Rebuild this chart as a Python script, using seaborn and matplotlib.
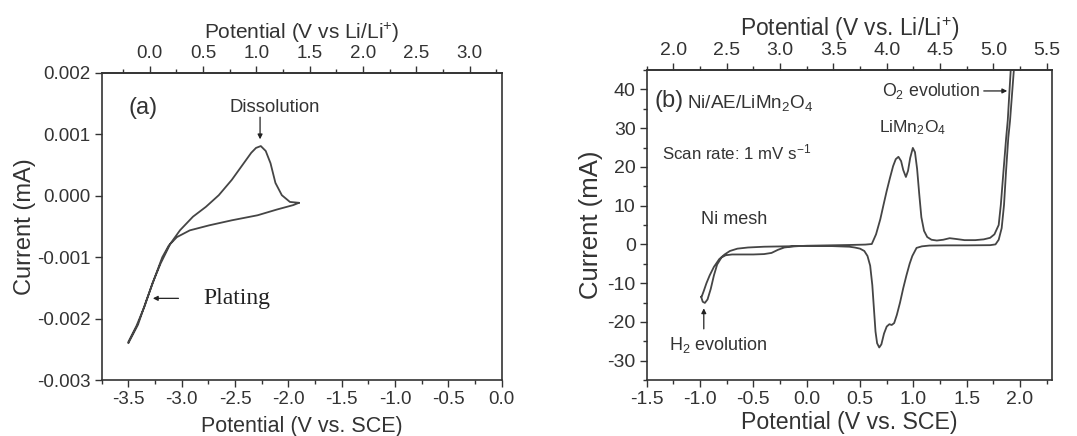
import matplotlib
matplotlib.use("Agg")
import matplotlib.pyplot as plt
import seaborn as sns
import pandas as pd
from matplotlib.ticker import MultipleLocator

# (a) Li plating / dissolution, potential vs SCE (V), current (mA)
a_potential = [-1.90, -1.955, -2.106, -2.288, -2.53, -2.742, -2.924, -3.045, -3.121, -3.182,
               -3.25, -3.33, -3.41, -3.50,
               -3.50, -3.424, -3.348, -3.273, -3.197, -3.106, -3.015, -2.894, -2.773, -2.652,
               -2.53, -2.439, -2.348, -2.303, -2.258, -2.212, -2.167, -2.121, -2.061, -1.985, -1.90]
a_current = [-0.000114, -0.000152, -0.000223, -0.000317, -0.000399, -0.000481, -0.000563, -0.000673, -0.00081, -0.001002,
             -0.00132, -0.00170, -0.00210, -0.00240,
             -0.00238, -0.00212, -0.00180, -0.00142, -0.00110, -0.00078, -0.00056, -0.00034, -0.00018, 0.00001,
             0.00026, 0.00048, 0.00070, 0.00078, 0.00081, 0.00073, 0.00053, 0.00021, 0.00001, -0.00010, -0.000114]

# (b) Ni/AE/LiMn2O4, potential vs SCE (V), current (mA)
b_potential = [-0.99, -0.975, -0.955, -0.93, -0.90, -0.87, -0.84, -0.80, -0.76, -0.70, -0.60, -0.50,
               -0.40, -0.33, -0.27, -0.21, -0.12, 0.0, 0.2, 0.4, 0.55, 0.61, 0.65, 0.69, 0.72, 0.75,
               0.78, 0.81, 0.835, 0.86, 0.885, 0.905, 0.93, 0.95, 0.97, 0.995, 1.015, 1.035, 1.055,
               1.075, 1.10, 1.13, 1.17, 1.22, 1.28, 1.34, 1.40, 1.48, 1.58, 1.66, 1.72, 1.76, 1.80,
               1.82, 1.845, 1.87, 1.885, 1.915,
               1.945, 1.906, 1.89, 1.869, 1.85, 1.828, 1.80, 1.77, 1.72, 1.5, 1.3, 1.15, 1.08, 1.03,
               0.99, 0.965, 0.935, 0.905, 0.875, 0.845, 0.82, 0.797, 0.775, 0.75, 0.725, 0.70, 0.68,
               0.66, 0.645, 0.63, 0.615, 0.595, 0.57, 0.54, 0.50, 0.45, 0.40, 0.2, 0.0, -0.2, -0.4,
               -0.55, -0.65, -0.72, -0.77, -0.82, -0.87, -0.91, -0.94, -0.965, -0.985, -0.99]
b_current = [-13.5, -14.8, -15.1, -14.2, -11.5, -8.0, -5.2, -3.4, -2.8, -2.6, -2.6, -2.6,
             -2.5, -2.2, -1.4, -0.8, -0.5, -0.35, -0.25, -0.15, -0.05, 0.1, 2.6, 6.5, 10.2, 13.8,
             17.1, 20.2, 22.0, 22.6, 21.5, 19.2, 17.4, 19.0, 22.3, 24.9, 23.8, 19.5, 13.0,
             7.0, 3.5, 1.9, 1.2, 1.0, 1.2, 1.6, 1.4, 1.1, 1.1, 1.3, 1.7, 2.6, 5.0,
             10.2, 18.9, 27.5, 32.0, 46.0,
             46.0, 31.8, 27.5, 18.9, 10.2, 4.2, 1.2, 0.0, -0.2, -0.25, -0.25, -0.3, -0.5, -0.9,
             -3.0, -5.0, -8.0, -11.3, -15.0, -18.2, -20.3, -20.8, -20.6, -21.2, -23.0, -25.8, -26.6,
             -25.5, -22.5, -16.5, -10.5, -5.5, -3.0, -1.7, -1.1, -0.8, -0.6, -0.4, -0.4, -0.5, -0.6,
             -0.8, -1.1, -1.7, -2.6, -3.8, -5.8, -8.0, -10.0, -12.0, -13.5, -13.5]

a_bottom_ticks = [-3.5, -3.0, -2.5, -2.0, -1.5, -1.0, -0.5, 0.0]
a_top_ticks = [0.0, 0.5, 1.0, 1.5, 2.0, 2.5, 3.0]
a_y_ticks = [0.002, 0.001, 0.000, -0.001, -0.002, -0.003]
a_y_labels = ['0.002', '0.001', '0.000', '-0.001', '-0.002', '-0.003']
b_bottom_ticks = [-1.5, -1.0, -0.5, 0.0, 0.5, 1.0, 1.5, 2.0]
b_top_ticks = [2.0, 2.5, 3.0, 3.5, 4.0, 4.5, 5.0, 5.5]
b_y_ticks = [40, 30, 20, 10, 0, -10, -20, -30]

a_offset = 3.3   # SCE -> Li/Li+
b_offset = 3.25

sns.set_style("ticks")
plt.rcParams['font.family'] = ['Liberation Sans', 'DejaVu Sans']
plt.rcParams['mathtext.fontset'] = 'custom'
plt.rcParams['mathtext.rm'] = 'Liberation Sans'
plt.rcParams['mathtext.it'] = 'Liberation Sans:italic'
plt.rcParams['axes.linewidth'] = 1.2
plt.rcParams['xtick.major.width'] = 1.0
plt.rcParams['ytick.major.width'] = 1.0
plt.rcParams['xtick.minor.width'] = 1.0
plt.rcParams['ytick.minor.width'] = 1.0
plt.rcParams['xtick.color'] = '#333333'
plt.rcParams['ytick.color'] = '#333333'
plt.rcParams['axes.edgecolor'] = '#333333'

line_color = '#454545'
text_color = '#333333'
arrow = dict(arrowstyle='-|>', color='#222222', lw=0.9, mutation_scale=7, shrinkA=0, shrinkB=0)

fig = plt.figure(figsize=(10.77, 4.36), dpi=100)
ax1 = fig.add_axes([0.0944, 0.1284, 0.3714, 0.7042])
ax2 = fig.add_axes([0.6005, 0.1284, 0.3763, 0.7110])

df_a = pd.DataFrame({'E': a_potential, 'I': a_current})
df_b = pd.DataFrame({'E': b_potential, 'I': b_current})

sns.lineplot(data=df_a, x='E', y='I', sort=False, estimator=None, color=line_color, lw=1.3, ax=ax1)
sns.lineplot(data=df_b, x='E', y='I', sort=False, estimator=None, color=line_color, lw=1.3, ax=ax2)


def style_axis(ax, xlim, ylim, xticks, yticks, ylabels, tick_size, xlab_size, ylab_size,
               offset, top_ticks, top_label, top_size, xlab_pad, ylab_pad):
    ax.set_xlim(*xlim)
    ax.set_ylim(*ylim)
    ax.set_xticks(xticks)
    ax.set_xticklabels(['{:.1f}'.format(v) for v in xticks])
    ax.set_yticks(yticks)
    ax.set_yticklabels(ylabels)
    ax.xaxis.set_minor_locator(MultipleLocator(0.25))
    ax.tick_params(which='major', direction='out', length=5, labelsize=tick_size, pad=3,
                   top=False, right=False, labelcolor=text_color)
    ax.tick_params(which='minor', direction='out', length=3, top=False, right=False)
    ax.set_xlabel('Potential (V vs. SCE)', fontsize=xlab_size, color=text_color, labelpad=xlab_pad)
    ax.set_ylabel('Current (mA)', fontsize=ylab_size, color=text_color, labelpad=ylab_pad)
    for s in ax.spines.values():
        s.set_visible(True)
    sec = ax.secondary_xaxis('top', functions=(lambda x: x + offset, lambda x: x - offset))
    sec.set_xticks(top_ticks)
    sec.set_xticklabels(['{:.1f}'.format(v) for v in top_ticks])
    sec.xaxis.set_minor_locator(MultipleLocator(0.25))
    sec.tick_params(which='major', direction='out', length=5, labelsize=tick_size, pad=3, labelcolor=text_color)
    sec.tick_params(which='minor', direction='out', length=3)
    sec.set_xlabel(top_label, fontsize=top_size, color=text_color, labelpad=4)
    return sec


style_axis(ax1, (-3.75, 0.0), (-0.003, 0.002), a_bottom_ticks, a_y_ticks, a_y_labels,
           13.5, 15.5, 17, a_offset, a_top_ticks, 'Potential (V vs Li/Li$^{+}$)', 15, 6, 1)

style_axis(ax2, (-1.5, 2.3), (-35, 45), b_bottom_ticks, b_y_ticks, [str(v) for v in b_y_ticks],
           14, 16.7, 18.5, b_offset, b_top_ticks, 'Potential (V vs. Li/Li$^{+}$)', 16.4, 2, 3)
ax2.yaxis.set_minor_locator(MultipleLocator(5))

# panel (a) annotations
ax1.text(-3.50, 0.00143, '(a)', fontsize=17, color=text_color, va='center', ha='left')
ax1.text(-2.13, 0.00143, 'Dissolution', fontsize=13.3, color=text_color, va='center', ha='center')
ax1.annotate('', xy=(-2.265, 0.00092), xytext=(-2.265, 0.00128), arrowprops=arrow)
ax1.annotate('', xy=(-3.27, -0.00167), xytext=(-3.03, -0.00167), arrowprops=arrow)
ax1.text(-2.80, -0.00167, 'Plating', fontsize=17, family=['Liberation Serif', 'DejaVu Serif'],
         color='#222222', va='center', ha='left')

# panel (b) annotations
ax2.text(-1.43, 37.0, '(b)', fontsize=17, color=text_color, va='center', ha='left')
ax2.text(-1.12, 36.4, 'Ni/AE/LiMn$_2$O$_4$', fontsize=13.6, color=text_color, va='center', ha='left')
ax2.text(-1.36, 23.6, 'Scan rate: 1 mV s$^{-1}$', fontsize=12.2, color=text_color, va='center', ha='left')
ax2.text(0.99, 30.0, 'LiMn$_2$O$_4$', fontsize=12.5, color=text_color, va='center', ha='center')
ax2.text(1.63, 39.6, 'O$_2$ evolution', fontsize=12.8, color=text_color, va='center', ha='right')
ax2.annotate('', xy=(1.88, 39.6), xytext=(1.66, 39.6), arrowprops=arrow)
ax2.text(-0.99, 6.3, 'Ni mesh', fontsize=13, color=text_color, va='center', ha='left')
ax2.text(-1.29, -26.0, 'H$_2$ evolution', fontsize=13, color=text_color, va='center', ha='left')
ax2.annotate('', xy=(-0.965, -16.5), xytext=(-0.965, -21.8), arrowprops=arrow)

fig.savefig('out.png', dpi=100)
